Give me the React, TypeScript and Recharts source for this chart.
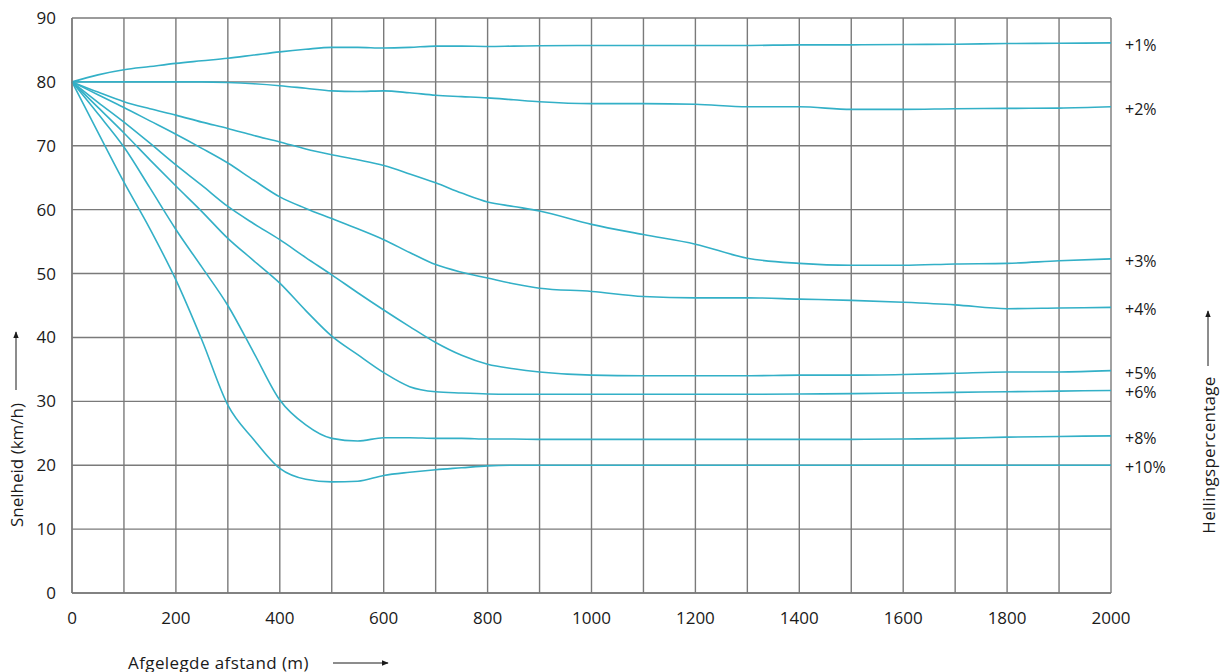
import React from "react";
import { CartesianGrid, Line, LineChart, XAxis, YAxis } from "recharts";

// afgelegde afstand (m)
const distances = [
  0, 50, 100, 150, 200, 250, 300, 350, 400, 450, 500, 550, 600, 650, 700, 750, 800, 850, 900,
  1000, 1100, 1200, 1300, 1400, 1500, 1600, 1700, 1800, 1900, 2000,
];

// snelheid (km/h) per hellingspercentage
const grade1 = [80, 81.1, 81.9, 82.4, 82.9, 83.3, 83.7, 84.2, 84.7, 85.1, 85.4, 85.4, 85.3, 85.4, 85.6, 85.6, 85.55, 85.6, 85.65, 85.7, 85.7, 85.7, 85.7, 85.8, 85.8, 85.85, 85.9, 86.0, 86.05, 86.1];
const grade2 = [80, 80, 80, 80, 80, 80, 79.9, 79.7, 79.4, 79.0, 78.6, 78.5, 78.6, 78.3, 77.9, 77.7, 77.5, 77.2, 76.9, 76.6, 76.6, 76.5, 76.1, 76.1, 75.7, 75.7, 75.8, 75.85, 75.9, 76.1];
const grade3 = [80, 78.4, 76.9, 75.8, 74.8, 73.7, 72.7, 71.6, 70.6, 69.5, 68.6, 67.8, 66.9, 65.6, 64.2, 62.6, 61.2, 60.5, 59.8, 57.7, 56.1, 54.6, 52.4, 51.6, 51.3, 51.3, 51.5, 51.6, 52.0, 52.3];
const grade4 = [80, 78.0, 76.0, 73.9, 71.8, 69.6, 67.3, 64.6, 62.0, 60.2, 58.6, 57.0, 55.3, 53.3, 51.4, 50.2, 49.3, 48.4, 47.7, 47.2, 46.4, 46.2, 46.2, 46.0, 45.8, 45.5, 45.1, 44.5, 44.6, 44.7];
const grade5 = [80, 76.8, 73.7, 70.4, 67.0, 63.8, 60.5, 57.8, 55.3, 52.5, 49.8, 47.0, 44.3, 41.7, 39.2, 37.2, 35.8, 35.1, 34.6, 34.1, 34.0, 34.0, 34.0, 34.1, 34.1, 34.2, 34.4, 34.6, 34.6, 34.8];
const grade6 = [80, 76.0, 72.0, 67.8, 63.7, 59.7, 55.5, 52.0, 48.5, 44.2, 40.2, 37.3, 34.5, 32.3, 31.5, 31.3, 31.15, 31.1, 31.1, 31.1, 31.1, 31.1, 31.1, 31.15, 31.2, 31.3, 31.4, 31.5, 31.6, 31.7];
const grade8 = [80, 75.0, 69.8, 63.4, 56.9, 51.0, 45.0, 37.6, 30.2, 26.3, 24.2, 23.8, 24.3, 24.3, 24.2, 24.2, 24.1, 24.1, 24.05, 24.05, 24.05, 24.05, 24.05, 24.05, 24.05, 24.1, 24.2, 24.4, 24.5, 24.6];
const grade10 = [80, 72.1, 64.3, 57.0, 49.0, 39.6, 29.4, 24.0, 19.5, 17.8, 17.4, 17.5, 18.4, 18.9, 19.3, 19.6, 19.9, 20.0, 20.0, 20, 20, 20, 20, 20, 20, 20, 20, 20, 20, 20];

const gradeLabels = ["+1%", "+2%", "+3%", "+4%", "+5%", "+6%", "+8%", "+10%"];
const gradeValues = [grade1, grade2, grade3, grade4, grade5, grade6, grade8, grade10];

const xTicks = Array.from({ length: 21 }, (_, i) => i * 100);
const yTicks = [0, 10, 20, 30, 40, 50, 60, 70, 80, 90];

const data = distances.map((d, i) => {
  const row: any = { d };
  gradeValues.forEach((vals, s) => {
    row["g" + s] = vals[i];
  });
  return row;
});

const LINE = "#33b0c7";
const GRID = "#7a7a7a";
const INK = "#1a1a1a";
const FONT = "'Open Sans', 'Noto Sans', sans-serif";
const last = distances.length - 1;

const endLabel = (text: string) => (props: any) => {
  if (props.index !== last) return <g />;
  return (
    <text x={props.x + 14} y={props.y + 2} fontSize={16} fill={INK} fontFamily={FONT} dominantBaseline="central">
      {text}
    </text>
  );
};

export default function App() {
  return (
    <div style={{ position: "relative", width: 1230, height: 672 }}>
      {/* drop the default body margin so the chart uses page coordinates */}
      <style>{"html,body{margin:0;padding:0;overflow:hidden}"}</style>
      <LineChart width={1230} height={672} data={data} margin={{ top: 18, right: 119, bottom: 49, left: 8 }}>
        <CartesianGrid stroke={GRID} strokeWidth={1.4} />
        <XAxis
          dataKey="d"
          type="number"
          domain={[0, 2000]}
          ticks={xTicks}
          interval={0}
          tickFormatter={(v) => (v % 200 === 0 ? String(v) : "")}
          tickLine={false}
          axisLine={{ stroke: GRID, strokeWidth: 1.4 }}
          tickMargin={13}
          height={30}
          tick={{ fontSize: 17, fill: INK, fontFamily: FONT }}
        />
        <YAxis
          type="number"
          domain={[0, 90]}
          ticks={yTicks}
          interval={0}
          tickLine={false}
          axisLine={{ stroke: GRID, strokeWidth: 1.4 }}
          tickMargin={10}
          width={64}
          tick={{ fontSize: 17, fill: INK, fontFamily: FONT }}
        />
        {gradeLabels.map((lab, s) => (
          <Line
            key={lab}
            dataKey={"g" + s}
            type="monotone"
            stroke={LINE}
            strokeWidth={1.6}
            dot={false}
            isAnimationActive={false}
            label={endLabel(lab)}
          />
        ))}
      </LineChart>
      {/* axis titles with arrows */}
      <svg width={1230} height={672} style={{ position: "absolute", left: 0, top: 0, pointerEvents: "none" }}>
        <defs>
          <marker id="arr" viewBox="0 0 10 10" refX="9" refY="5" markerWidth="7" markerHeight="7" orient="auto">
            <path d="M0,1 L10,5 L0,9 z" fill={INK} />
          </marker>
        </defs>
        <text x={128} y={662} fontSize={17} letterSpacing={0.4} fill={INK} fontFamily={FONT} dominantBaseline="central">
          Afgelegde afstand (m)
        </text>
        <line x1={333} y1={663} x2={388} y2={663} stroke={INK} strokeWidth={1} markerEnd="url(#arr)" />
        <text x={16} y={465} fontSize={17} fill={INK} fontFamily={FONT} textAnchor="middle" dominantBaseline="central" transform="rotate(-90 16 465)">
          Snelheid (km/h)
        </text>
        <line x1={16} y1={390} x2={16} y2={332} stroke={INK} strokeWidth={1} markerEnd="url(#arr)" />
        <text x={1208} y={455} fontSize={17} letterSpacing={0.3} fill={INK} fontFamily={FONT} textAnchor="middle" dominantBaseline="central" transform="rotate(-90 1208 455)">
          Hellingspercentage
        </text>
        <line x1={1208} y1={366} x2={1208} y2={311} stroke={INK} strokeWidth={1} markerEnd="url(#arr)" />
      </svg>
    </div>
  );
}
